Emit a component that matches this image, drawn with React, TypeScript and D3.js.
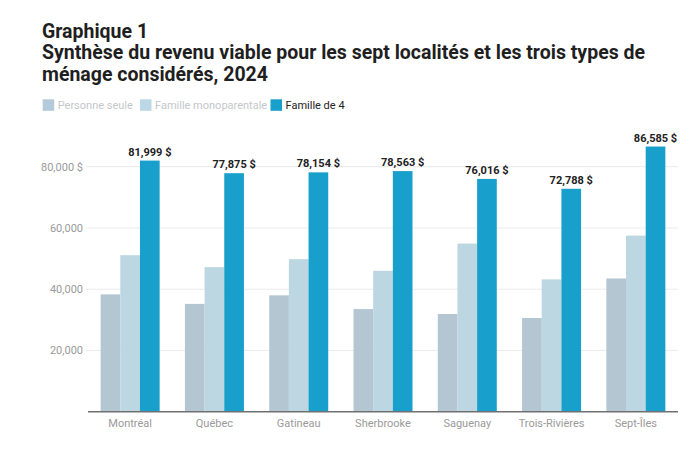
import React from "react";
import * as d3 from "d3";

const cities = ["Montréal", "Québec", "Gatineau", "Sherbrooke", "Saguenay", "Trois-Rivières", "Sept-Îles"];
const personneSeule = [38300, 35200, 38000, 33500, 31900, 30600, 43500];
const familleMono = [51100, 47200, 49800, 46000, 54900, 43200, 57500];
const famille4 = [81999, 77875, 78154, 78563, 76016, 72788, 86585];
const seriesNames = ["Personne seule", "Famille monoparentale", "Famille de 4"];
const seriesColors = ["#b3c6d2", "#bcd6e2", "#189fcb"];
const legendSwatch = ["#b4c9d9", "#bcd7e6", "#189fcb"];
const legendText = ["#c4c7ca", "#c4c7ca", "#222222"];
const yTicks = [20000, 40000, 60000, 80000];

const W = 700;
const H = 450;
const left = 88;
const right = 678;
const baseY = 411.7;

export default function App() {
  const x = d3.scaleBand<string>().domain(cities).range([left, right]).paddingInner(0.3).paddingOuter(0.15);
  const inner = d3.scaleBand<string>().domain(seriesNames).range([0, x.bandwidth()]).padding(0);
  const y = d3.scaleLinear().domain([0, 90000]).range([baseY, baseY - (90000 * 245) / 80000]);
  const fmt = d3.format(",");
  const series = [personneSeule, familleMono, famille4];
  const font = "Roboto, 'Noto Sans', sans-serif";

  const legendX = [42.7, 140, 270.5];

  return (
    <svg width={W} height={H} style={{ position: "absolute", left: 0, top: 0, background: "#fff" }} fontFamily={font}>
      <rect width={W} height={H} fill="#fff" />
      <g fill="#1f1f1f" fontWeight="bold" fontSize={19.5}>
        <text x={42} y={37.5}>Graphique 1</text>
        <text x={42} y={59}>Synthèse du revenu viable pour les sept localités et les trois types de</text>
        <text x={42} y={81}>ménage considérés, 2024</text>
      </g>
      <g fontSize={11}>
        {seriesNames.map((s, i) => (
          <g key={s}>
            <rect x={legendX[i]} y={99.3} width={11.5} height={11.5} fill={legendSwatch[i]} />
            <text x={legendX[i] + 15} y={109.3} fill={legendText[i]}>{s}</text>
          </g>
        ))}
      </g>
      <g>
        {yTicks.map((t) => (
          <g key={t}>
            <line x1={86} x2={right} y1={y(t)} y2={y(t)} stroke="#ebebeb" strokeWidth={1} />
            <text x={83} y={y(t)} dy="0.35em" textAnchor="end" fontSize={11} fill="#9a9a9a">
              {fmt(t) + (t === 80000 ? " $" : "")}
            </text>
          </g>
        ))}
      </g>
      <g>
        {cities.map((c, ci) => (
          <g key={c}>
            {series.map((vals, si) => (
              <rect
                key={si}
                x={(x(c) ?? 0) + (inner(seriesNames[si]) ?? 0)}
                y={y(vals[ci])}
                width={inner.bandwidth()}
                height={baseY - y(vals[ci])}
                fill={seriesColors[si]}
              />
            ))}
            <text
              x={(x(c) ?? 0) + (inner(seriesNames[2]) ?? 0) + inner.bandwidth() / 2}
              y={y(famille4[ci]) - 5}
              textAnchor="middle"
              fontSize={11}
              fontWeight="bold"
              fill="#222"
            >
              {fmt(famille4[ci]) + " $"}
            </text>
            <text
              x={(x(c) ?? 0) + x.bandwidth() / 2}
              y={427}
              textAnchor="middle"
              fontSize={11}
              fill="#9a9a9a"
            >
              {c}
            </text>
          </g>
        ))}
      </g>
      <line x1={left} x2={right} y1={baseY} y2={baseY} stroke="#707070" strokeWidth={1.5} />
    </svg>
  );
}
